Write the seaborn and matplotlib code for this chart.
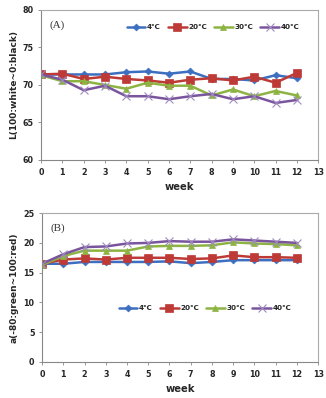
import matplotlib
matplotlib.use("Agg")
import matplotlib.pyplot as plt
import seaborn as sns
import pandas as pd
import numpy as np

weeks = list(range(13))
series = ["4℃", "20℃", "30℃", "40℃"]

L_4 = [71.4, 71.4, 71.4, 71.4, 71.7, 71.8, 71.5, 71.8, 70.8, 70.8, 70.6, 71.3, 70.9]
L_20 = [71.4, 71.5, 70.8, 71.1, 70.8, 70.6, 70.3, 70.7, 70.9, 70.6, 71.1, 70.3, 71.6]
L_30 = [71.3, 70.5, 70.5, 70.0, 69.5, 70.3, 69.9, 69.9, 68.6, 69.4, 68.5, 69.2, 68.6]
L_40 = [71.4, 70.7, 69.3, 69.9, 68.5, 68.5, 68.1, 68.5, 68.8, 68.1, 68.5, 67.6, 68.0]

a_4 = [16.5, 16.5, 16.8, 16.8, 16.8, 16.8, 16.9, 16.6, 16.8, 17.1, 17.1, 17.1, 17.1]
a_20 = [16.5, 17.2, 17.4, 17.2, 17.5, 17.5, 17.5, 17.3, 17.4, 17.9, 17.6, 17.6, 17.5]
a_30 = [16.3, 17.8, 18.7, 18.7, 18.7, 19.4, 19.5, 19.5, 19.6, 20.1, 19.9, 19.8, 19.6]
a_40 = [16.5, 18.1, 19.3, 19.4, 19.9, 20.0, 20.3, 20.2, 20.2, 20.6, 20.4, 20.2, 20.0]

x_ticks = list(range(14))
L_ticks = [60, 65, 70, 75, 80]
a_ticks = [0, 5, 10, 15, 20, 25]

colors = {"4℃": "#3D6FC0", "20℃": "#BE3A36", "30℃": "#8DB443", "40℃": "#7A559E"}
markers = {"4℃": "D", "20℃": "s", "30℃": "^", "40℃": "x"}
msizes = {"4℃": 3.5, "20℃": 6, "30℃": 5, "40℃": 5.5}

def long_df(vals):
    rows = []
    for s, v in zip(series, vals):
        for w, y in zip(weeks, v):
            rows.append({"week": w, "value": y, "temp": s})
    return pd.DataFrame(rows)

sns.set_theme(style="white")
plt.rcParams["font.family"] = ["DejaVu Sans", "Noto Sans CJK SC"]

fig = plt.figure(figsize=(3.26, 3.98), dpi=100)
axA = fig.add_axes([0.126, 0.598, 0.850, 0.377])
axB = fig.add_axes([0.129, 0.0905, 0.847, 0.374])

def draw(ax, vals, ylim, yticks, ylabel, tag, legend_loc):
    df = long_df(vals)
    for s in series:
        sub = df[df["temp"] == s]
        sns.lineplot(data=sub, x="week", y="value", ax=ax, color=colors[s],
                     marker=markers[s], markersize=msizes[s], linewidth=1.8,
                     markeredgecolor=colors[s] if s != "40℃" else "#9E8BC0",
                     markeredgewidth=0.8 if s == "40℃" else 0.5,
                     label=s)
    ax.set_xlim(0, 13)
    ax.set_ylim(*ylim)
    ax.set_xticks(x_ticks)
    ax.set_yticks(yticks)
    ax.tick_params(axis="both", labelsize=5.8, length=2.5, width=0.6, color="#888888",
                   direction="out", bottom=True, left=True, pad=3)
    for lab in ax.get_xticklabels() + ax.get_yticklabels():
        lab.set_fontweight("bold")
    ax.set_xlabel("week", fontsize=7.2, fontweight="bold", labelpad=4)
    ax.set_ylabel(ylabel, fontsize=6.5, fontweight="bold", labelpad=3)
    for sp in ["left", "bottom"]:
        ax.spines[sp].set_color("#888888")
        ax.spines[sp].set_linewidth(0.8)
    for sp in ["top", "right"]:
        ax.spines[sp].set_color("#aaaaaa")
        ax.spines[sp].set_linewidth(0.8)
    ax.text(0.03, 0.93, tag, transform=ax.transAxes, fontsize=8,
            family="Liberation Serif", va="top", ha="left", color="#333333")
    ax.legend(loc="center", bbox_to_anchor=legend_loc, ncol=4, frameon=False,
              handlelength=2.6, handletextpad=0.2, columnspacing=1.0,
              prop={"weight": "bold", "size": 5.2,
                    "family": ["DejaVu Sans", "Noto Sans CJK SC"]})
    ax.grid(False)

draw(axA, [L_4, L_20, L_30, L_40], (60, 80), L_ticks, "L(100:white~0:black)", "(A)", (0.62, 0.885))
draw(axB, [a_4, a_20, a_30, a_40], (0, 25), a_ticks, "a(-80:green~100:red)", "(B)", (0.59, 0.36))

fig.savefig("out.png", dpi=100)
